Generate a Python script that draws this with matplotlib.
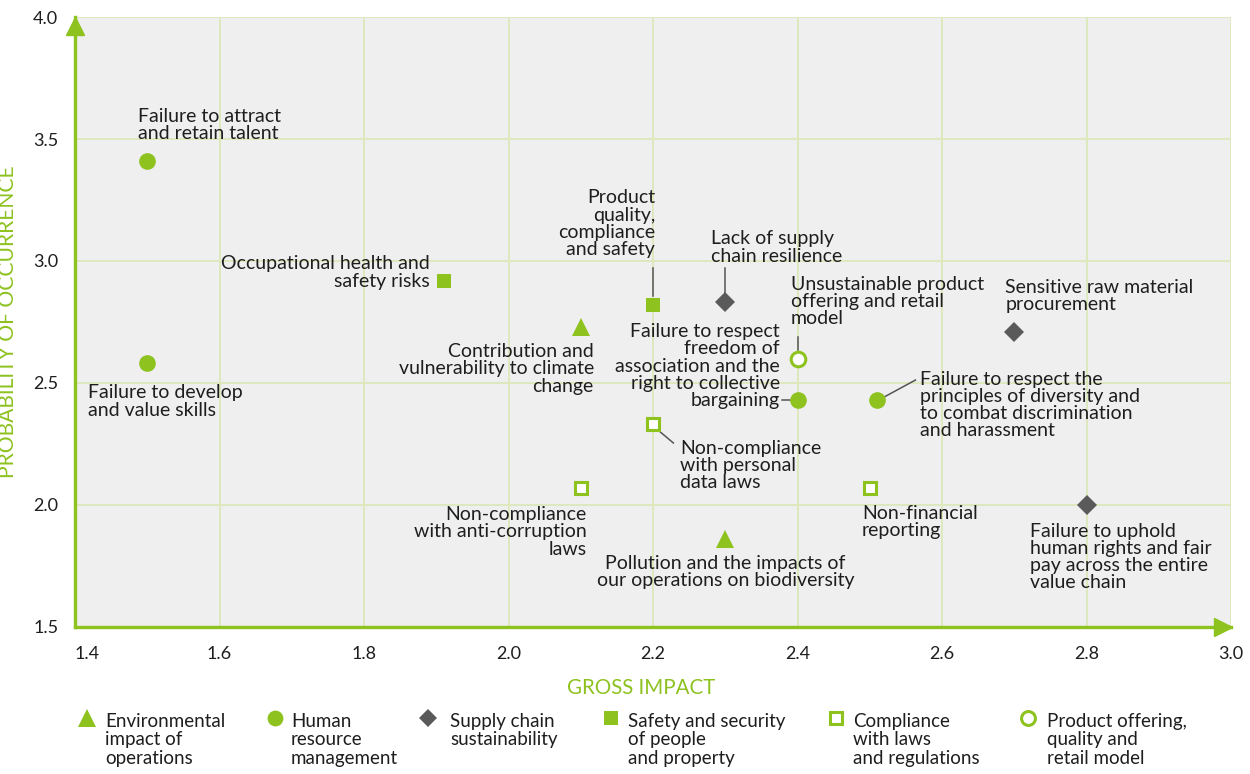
import numpy as np
import matplotlib
matplotlib.use('Agg')
import matplotlib.pyplot as plt

green = '#8dc21f'
grey = '#5a5a5a'
text_col = '#1e1e1e'
plt.rcParams['font.family'] = ['Lato', 'DejaVu Sans']

# risk data
risk_labels = [
    'Failure to attract\nand retain talent',
    'Failure to develop\nand value skills',
    'Occupational health and\nsafety risks',
    'Product\nquality,\ncompliance\nand safety',
    'Lack of supply\nchain resilience',
    'Contribution and\nvulnerability to climate\nchange',
    'Unsustainable product\noffering and retail\nmodel',
    'Failure to respect\nfreedom of\nassociation and the\nright to collective\nbargaining',
    'Failure to respect the\nprinciples of diversity and\nto combat discrimination\nand harassment',
    'Sensitive raw material\nprocurement',
    'Non-compliance\nwith personal\ndata laws',
    'Non-compliance\nwith anti-corruption\nlaws',
    'Non-financial\nreporting',
    'Failure to uphold\nhuman rights and fair\npay across the entire\nvalue chain',
    'Pollution and the impacts of\nour operations on biodiversity',
]
gross_impact = [1.50, 1.50, 1.91, 2.20, 2.30, 2.10, 2.40, 2.40, 2.51, 2.70, 2.20, 2.10, 2.50, 2.80, 2.30]
probability = [3.41, 2.58, 2.92, 2.82, 2.83, 2.73, 2.60, 2.43, 2.43, 2.71, 2.33, 2.07, 2.07, 2.00, 1.86]
category = ['hr', 'hr', 'safety', 'safety', 'supply', 'env', 'product', 'hr', 'hr', 'supply',
            'compliance', 'compliance', 'compliance', 'supply', 'env']

# label placement: offset in pixels, ha
label_pos = [
    (-9, 36, 'left'), (-59, -38, 'left'), (-14, 8, 'right'), (2, 81, 'right'),
    (-14, 55, 'left'), (13, -42, 'right'), (-7, 57, 'left'), (-18, 34, 'right'),
    (43, -5, 'left'), (-9, 36, 'left'), (27, -41, 'left'), (6, -44, 'right'),
    (-8, -34, 'left'), (-57, -52, 'left'), (0, -33, 'center'),
]

styles = {
    'env': dict(marker='^', ms=13, mfc=green, mec=green, mew=0),
    'hr': dict(marker='o', ms=12, mfc=green, mec=green, mew=0),
    'supply': dict(marker='D', ms=10, mfc=grey, mec=grey, mew=0),
    'safety': dict(marker='s', ms=10, mfc=green, mec=green, mew=0),
    'compliance': dict(marker='s', ms=9, mfc='white', mec=green, mew=2.2),
    'product': dict(marker='o', ms=10.5, mfc='white', mec=green, mew=2.2),
}

legend_keys = ['env', 'hr', 'supply', 'safety', 'compliance', 'product']
legend_labels = ['Environmental\nimpact of\noperations', 'Human\nresource\nmanagement',
                 'Supply chain\nsustainability', 'Safety and security\nof people\nand property',
                 'Compliance\nwith laws\nand regulations', 'Product offering,\nquality and\nretail model']

# connector lines (data coords)
connectors = [
    ((2.2, 2.857), (2.2, 2.971)),
    ((2.3, 2.857), (2.3, 2.971)),
    ((2.4, 2.637), (2.4, 2.69)),
    ((2.378, 2.43), (2.389, 2.43)),
    ((2.52, 2.443), (2.563, 2.512)),
    ((2.21, 2.299), (2.228, 2.254)),
]

fig = plt.figure(figsize=(12.5, 7.74), dpi=100)
ax = fig.add_axes([0.06, 0.19, 0.925, 0.788])
ax.set_facecolor('#efefef')
ax.set_xlim(1.4, 3.0)
ax.set_ylim(1.5, 4.0)
ax.set_xticks(np.arange(1.4, 3.01, 0.2))
ax.set_yticks([1.5, 2.0, 2.5, 3.0, 3.5, 4.0])
ax.set_xticklabels(['%.1f' % v for v in np.arange(1.4, 3.01, 0.2)])
ax.set_yticklabels(['1.5', '2.0', '2.5', '3.0', '3.5', '4.0'])
ax.grid(True, color='#dde8bd', lw=1.4)
ax.set_axisbelow(True)
ax.tick_params(length=0, labelsize=13, colors=text_col)
ax.tick_params(axis='y', pad=12)
ax.tick_params(axis='x', pad=14)
ax.get_xticklabels()[0].set_horizontalalignment('left')
for s in ['top', 'right']:
    ax.spines[s].set_visible(False)
for s in ['left', 'bottom']:
    ax.spines[s].set_color(green)
    ax.spines[s].set_linewidth(2.4)
    ax.spines[s].set_zorder(5)
ax.plot(2.988, 1.5, '>', color=green, ms=13, clip_on=False, zorder=6)
ax.plot(1.4, 3.963, '^', color=green, ms=13, clip_on=False, zorder=6)

ax.set_xlabel('GROSS IMPACT', color=green, fontsize=14.8)
ax.set_ylabel('PROBABILITY OF OCCURRENCE', color=green, fontsize=15.2)
ax.xaxis.set_label_coords(0.49, -0.084)
ax.yaxis.set_label_coords(-0.049, 0.5)

for (p0, p1) in connectors:
    ax.plot([p0[0], p1[0]], [p0[1], p1[1]], color='#555555', lw=1.1, zorder=2)

for lab, x, y, cat, (dx, dy, ha) in zip(risk_labels, gross_impact, probability, category, label_pos):
    ax.plot(x, y, ls='none', zorder=4, **styles[cat])
    ax.annotate(lab, (x, y), xytext=(dx, dy), textcoords='offset pixels',
                ha=ha, va='center', fontsize=14, color=text_col, linespacing=1.02,
                multialignment=ha)

# legend row
leg = fig.add_axes([0, 0, 1, 1])
leg.set_xlim(0, 1250)
leg.set_ylim(774, 0)
leg.axis('off')
leg.patch.set_alpha(0)
leg_mx = [87, 275, 428, 611, 836, 1028]
leg_tx = [105, 291, 450, 628, 853, 1047]
for key, lab, mx, tx in zip(legend_keys, legend_labels, leg_mx, leg_tx):
    st = dict(styles[key])
    st['ms'] = st['ms'] * 0.95
    leg.plot(mx, 718, ls='none', **st)
    leg.text(tx, 713, lab, ha='left', va='top', fontsize=13.5, color=text_col, linespacing=1.1)

fig.savefig('out.png', dpi=100)
